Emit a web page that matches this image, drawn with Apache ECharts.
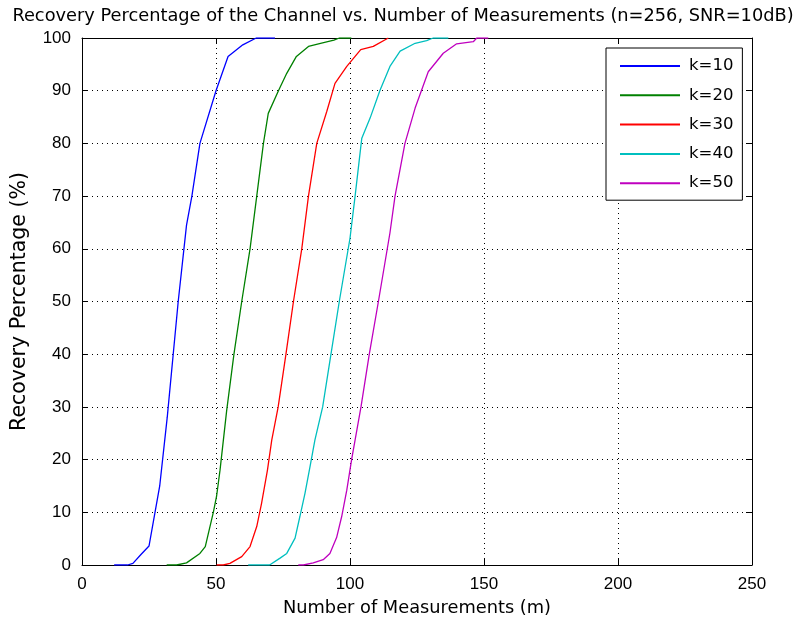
<!DOCTYPE html>
<html>
<head>
<meta charset="utf-8">
<script src="https://cdn.jsdelivr.net/npm/echarts@6/dist/echarts.min.js"></script>
<style>
  html, body { margin: 0; padding: 0; background: #fff; }
  #chart { width: 806px; height: 624px; }
</style>
</head>
<body>
<div id="chart"></div>
<script>
const k10 = [[12, 0], [17, 0], [19, 0.3], [22, 2], [25, 3.6], [29, 15], [31.8, 28], [35.9, 50], [39, 64.5],
  [41, 70], [44, 80], [50, 90], [54.5, 96.5], [60, 98.7], [65, 100], [72, 100]];
const k20 = [[31.6, 0], [35.3, 0], [39, 0.4], [44, 2.2], [46, 3.5], [49, 10], [50.2, 13], [51.5, 18], [54, 29.4],
  [56.7, 40], [59.6, 50], [62.7, 60], [65.2, 70], [67.7, 80], [69.5, 85.7], [73.3, 90], [76.4, 93.3],
  [80, 96.5], [84.5, 98.4], [89, 99], [94, 99.6], [96, 100], [100.5, 100]];
const k30 = [[50.2, 0], [52.7, 0], [55.2, 0.3], [59.6, 1.6], [62.7, 3.5], [65.2, 7.3], [67, 11.7], [69.2, 18],
  [70.8, 23.7], [73.2, 30], [76.1, 40], [78.9, 50], [82, 60], [84.5, 70], [87.6, 80], [91.3, 86],
  [94.4, 91.4], [98.8, 94.6], [104, 97.8], [108.7, 98.4], [114.3, 100]];
const k40 = [[62, 0], [70, 0], [73.9, 1.3], [76.4, 2.2], [79.5, 5.1], [81.3, 9.2], [83.2, 13.6], [85.1, 18.7],
  [86.9, 23.7], [89.8, 30], [92.9, 40], [96, 50], [100, 62], [101.9, 70], [104.4, 81], [107.5, 84.8],
  [111.2, 90.1], [114.9, 94.6], [118.7, 97.5], [124.3, 99], [128.6, 99.5], [131, 100], [136.7, 100]];
const k50 = [[80.7, 0], [82.6, 0], [86.3, 0.4], [90, 1], [92.5, 2.2], [95, 5.2], [96.9, 9.2], [98.8, 14.2],
  [100.6, 20], [104.1, 30], [107.2, 40], [110.6, 50], [114.9, 63], [116.8, 70], [120.5, 80], [124.3, 86.7],
  [129.2, 93.6], [134.8, 97.1], [139.8, 98.9], [146, 99.3], [147.3, 100], [151.6, 100]];

const seriesNames = ['k=10', 'k=20', 'k=30', 'k=40', 'k=50'];
const seriesData = [k10, k20, k30, k40, k50];
const colors = ['#0000ff', '#008000', '#ff0000', '#00bfbf', '#bf00bf'];

const font = 'Liberation Sans, Arial, sans-serif';
const wideFont = 'DejaVu Sans, sans-serif';
const chart = echarts.init(document.getElementById('chart'));

const gridLine = { show: true, lineStyle: { color: '#000', type: [1, 4], width: 1 } };
const axisLine = { show: true, onZero: false, lineStyle: { color: '#000', width: 1 } };
const tick = { show: true, inside: true, length: 6, lineStyle: { color: '#000' } };

const option = {
  animation: false,
  title: {
    text: 'Recovery Percentage of the Channel vs. Number of Measurements (n=256, SNR=10dB)',
    left: 'center',
    top: 2,
    textStyle: { fontFamily: wideFont, fontSize: 17.8, fontWeight: 'normal', color: '#000' }
  },
  grid: { left: 82, right: 54, top: 38, bottom: 59 },
  legend: {
    orient: 'vertical',
    left: 606,
    top: 48,
    padding: [9, 9, 8, 14],
    icon: 'rect',
    itemWidth: 60,
    itemHeight: 2,
    itemGap: 11.3,
    backgroundColor: '#fff',
    borderColor: '#000',
    borderWidth: 1,
    textStyle: { fontFamily: wideFont, fontSize: 16.5, color: '#000', lineHeight: 18, padding: [0, 0, 0, 4] },
    data: seriesNames
  },
  xAxis: [{
    type: 'value', min: 0, max: 250, interval: 50,
    name: 'Number of Measurements (m)', nameLocation: 'middle', nameGap: 34,
    nameTextStyle: { fontFamily: wideFont, fontSize: 17.8, color: '#000' },
    axisLine: axisLine,
    axisTick: tick,
    axisLabel: { fontFamily: font, fontSize: 17, color: '#000', margin: 11 },
    splitLine: gridLine
  }, {
    type: 'value', min: 0, max: 250, interval: 50, position: 'top',
    axisLine: axisLine,
    axisTick: tick,
    axisLabel: { show: false },
    splitLine: { show: false }
  }],
  yAxis: [{
    type: 'value', min: 0, max: 100, interval: 10,
    name: 'Recovery Percentage (%)', nameLocation: 'middle', nameGap: 52,
    nameTextStyle: { fontFamily: wideFont, fontSize: 20.5, color: '#000' },
    axisLine: axisLine,
    axisTick: tick,
    axisLabel: { fontFamily: font, fontSize: 17, color: '#000', margin: 11 },
    splitLine: gridLine
  }, {
    type: 'value', min: 0, max: 100, interval: 10, position: 'right',
    axisLine: axisLine,
    axisTick: tick,
    axisLabel: { show: false },
    splitLine: { show: false }
  }],
  series: seriesNames.map((name, i) => ({
    name: name,
    type: 'line',
    data: seriesData[i],
    symbol: 'none',
    lineStyle: { color: colors[i], width: 1.3 },
    itemStyle: { color: colors[i] },
    z: 3
  }))
};

chart.setOption(option);
</script>
</body>
</html>
